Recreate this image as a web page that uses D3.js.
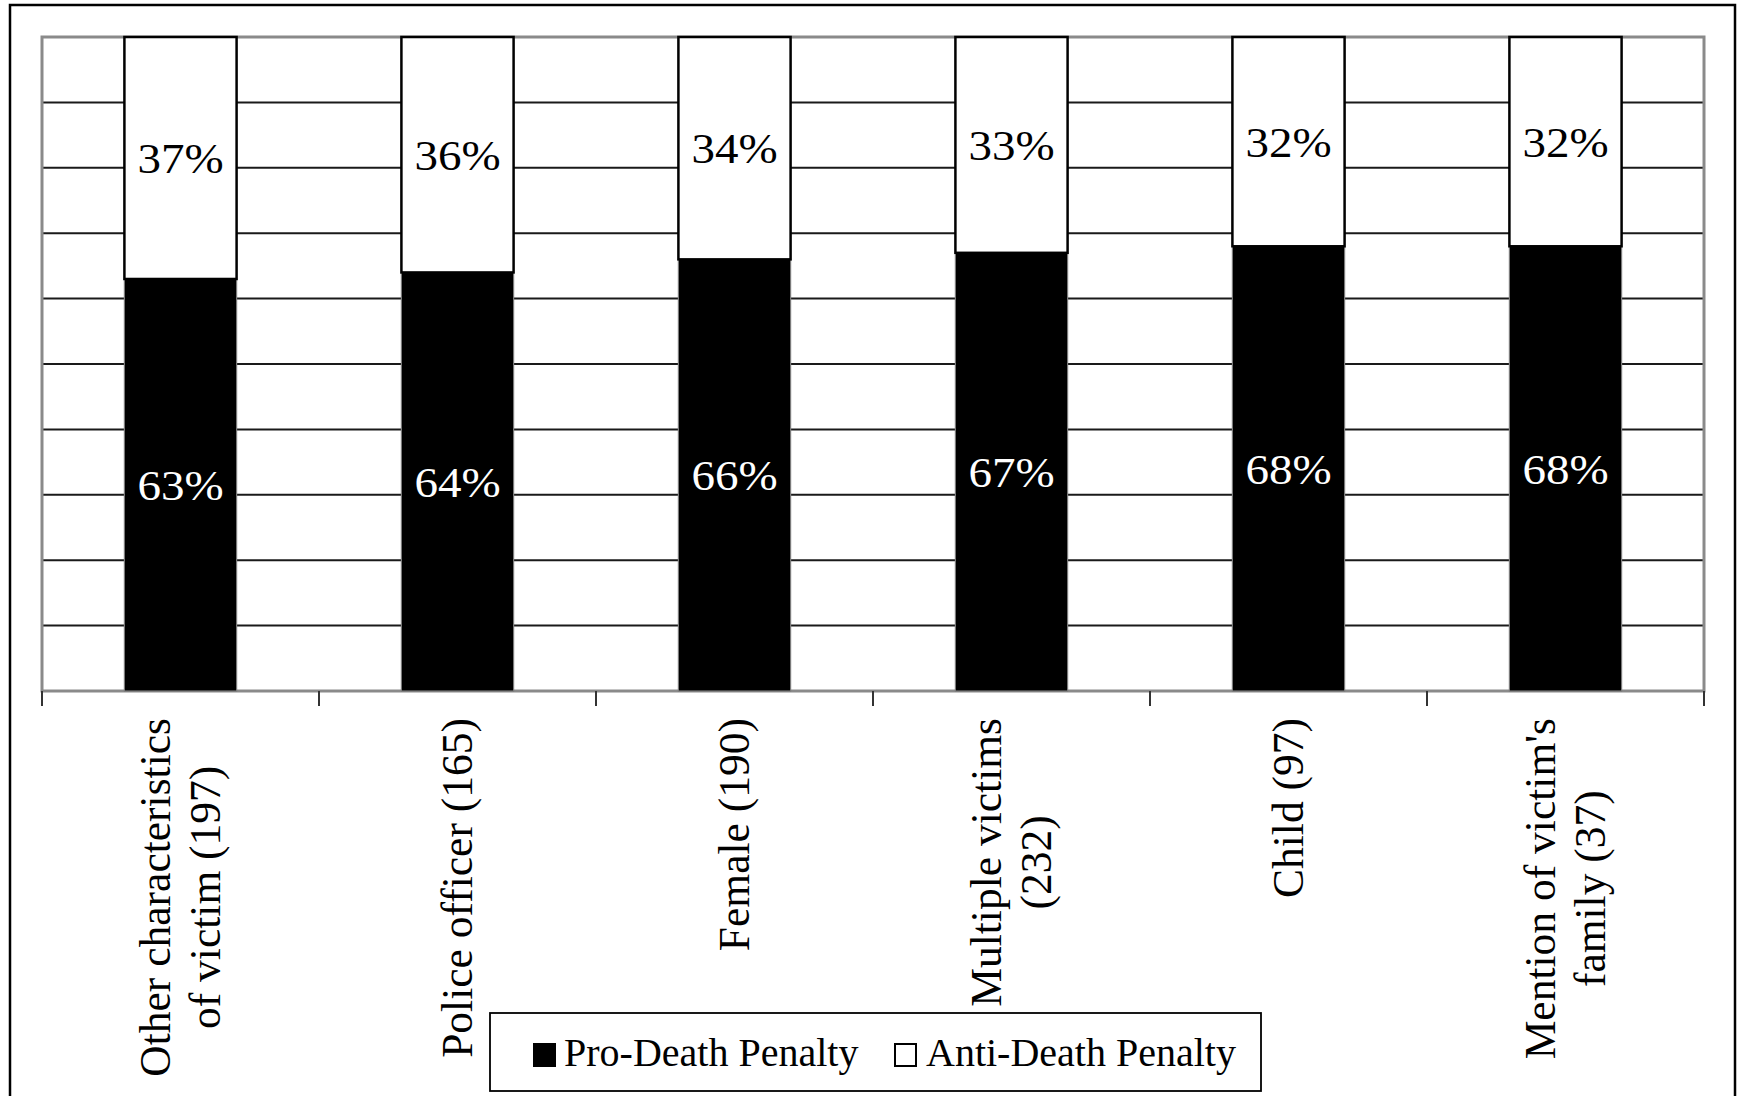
<!DOCTYPE html>
<html>
<head>
<meta charset="utf-8">
<script src="https://cdn.jsdelivr.net/npm/d3@7"></script>
<style>
  html, body { margin: 0; padding: 0; background: #fff; }
  svg { display: block; }
  text { font-family: "Liberation Serif", "Times New Roman", serif; }
</style>
</head>
<body>
<svg id="chart" width="1741" height="1096"></svg>
<script>
// Victim characteristics mentioned, with number of cases
const categoryLines = [
  ["Other characteristics", "of victim (197)"],
  ["Police officer (165)"],
  ["Female (190)"],
  ["Multiple victims", "(232)"],
  ["Child (97)"],
  ["Mention of victim's", "family (37)"]
];
// Share of coverage (%) by stance
const proValues  = [63, 64, 66, 67, 68, 68];
const antiValues = [37, 36, 34, 33, 32, 32];
const seriesNames = ["Pro-Death Penalty", "Anti-Death Penalty"];
const gridTicks = [10, 20, 30, 40, 50, 60, 70, 80, 90];

const W = 1741, H = 1096;
const plot = { left: 42, right: 1704, top: 37, bottom: 691 };

const svg = d3.select("#chart");
svg.append("rect").attr("width", W).attr("height", H).attr("fill", "#fff");

// outer frame (bottom edge runs off the page)
svg.append("rect")
  .attr("x", 10).attr("y", 5).attr("width", 1725).attr("height", H + 20)
  .attr("fill", "none").attr("stroke", "#000").attr("stroke-width", 2.5);

const idx = d3.range(categoryLines.length);
const x = d3.scaleBand().domain(idx).range([plot.left, plot.right]).paddingInner(0).paddingOuter(0);
const y = d3.scaleLinear().domain([0, 100]).range([plot.bottom, plot.top]);
const barW = x.bandwidth() * 0.405;

// horizontal gridlines
svg.append("g").selectAll("line").data(gridTicks).join("line")
  .attr("x1", plot.left).attr("x2", plot.right)
  .attr("y1", d => y(d)).attr("y2", d => y(d))
  .attr("stroke", "#1a1a1a").attr("stroke-width", 2);

// plot area border
svg.append("rect")
  .attr("x", plot.left).attr("y", plot.top)
  .attr("width", plot.right - plot.left).attr("height", plot.bottom - plot.top)
  .attr("fill", "none").attr("stroke", "#8a8a8a").attr("stroke-width", 3);

// category boundary ticks below the axis
const tickXs = idx.map(i => x(i)).concat([plot.right]);
svg.append("g").selectAll("line").data(tickXs).join("line")
  .attr("x1", d => d).attr("x2", d => d)
  .attr("y1", plot.bottom).attr("y2", plot.bottom + 15)
  .attr("stroke", "#333").attr("stroke-width", 2);

// stacked bars
const rows = idx.map(i => ({ i, pro: proValues[i], anti: antiValues[i] }));
const stack = d3.stack().keys(["pro", "anti"]);
const layers = stack(rows);
const fills = { pro: "#000", anti: "#fff" };
const strokes = { pro: "#7a7a7a", anti: "#000" };
const strokeW = { pro: 1.2, anti: 2.5 };
const textFill = { pro: "#fff", anti: "#000" };

layers.forEach(layer => {
  const key = layer.key;
  const g = svg.append("g");
  g.selectAll("rect").data(layer).join("rect")
    .attr("x", d => x(d.data.i) + (x.bandwidth() - barW) / 2)
    .attr("width", barW)
    .attr("y", d => y(d[1]))
    .attr("height", d => y(d[0]) - y(d[1]))
    .attr("fill", fills[key])
    .attr("stroke", strokes[key])
    .attr("stroke-width", strokeW[key]);
  g.selectAll("text").data(layer).join("text")
    .attr("transform", d =>
      `translate(${x(d.data.i) + x.bandwidth() / 2},${(y(d[0]) + y(d[1])) / 2 + 15}) scale(1.12,1)`)
    .attr("text-anchor", "middle")
    .attr("font-size", 42)
    .attr("fill", textFill[key])
    .text(d => d.data[key] + "%");
});

// rotated category labels, lines centred on each other, block hung from the axis
const labelTop = 718, lineGap = 50, fs = 43.5;
idx.forEach(i => {
  const lines = categoryLines[i];
  const g = svg.append("g")
    .attr("transform", `translate(${x(i) + x.bandwidth() / 2},${labelTop}) rotate(-90)`);
  const texts = lines.map((ln, k) => g.append("text")
    .attr("font-size", fs)
    .attr("text-anchor", "middle")
    .attr("y", (k - (lines.length - 1) / 2) * lineGap + 14)
    .attr("fill", "#000")
    .text(ln));
  const maxW = d3.max(texts, t => t.node().getComputedTextLength());
  texts.forEach(t => t.attr("x", -maxW / 2));
});

// legend
const lg = svg.append("g");
lg.append("rect")
  .attr("x", 490).attr("y", 1013).attr("width", 771).attr("height", 78)
  .attr("fill", "#fff").attr("stroke", "#000").attr("stroke-width", 1.8);
const legendItems = [
  { name: seriesNames[0], key: "pro", sx: 534, tx: 564 },
  { name: seriesNames[1], key: "anti", sx: 895, tx: 926 }
];
legendItems.forEach(it => {
  lg.append("rect")
    .attr("x", it.sx).attr("y", 1044).attr("width", 21).attr("height", 22)
    .attr("fill", fills[it.key]).attr("stroke", "#000").attr("stroke-width", 2);
  lg.append("text")
    .attr("x", it.tx).attr("y", 1066)
    .attr("font-size", 40)
    .attr("fill", "#000")
    .text(it.name);
});
</script>
</body>
</html>
